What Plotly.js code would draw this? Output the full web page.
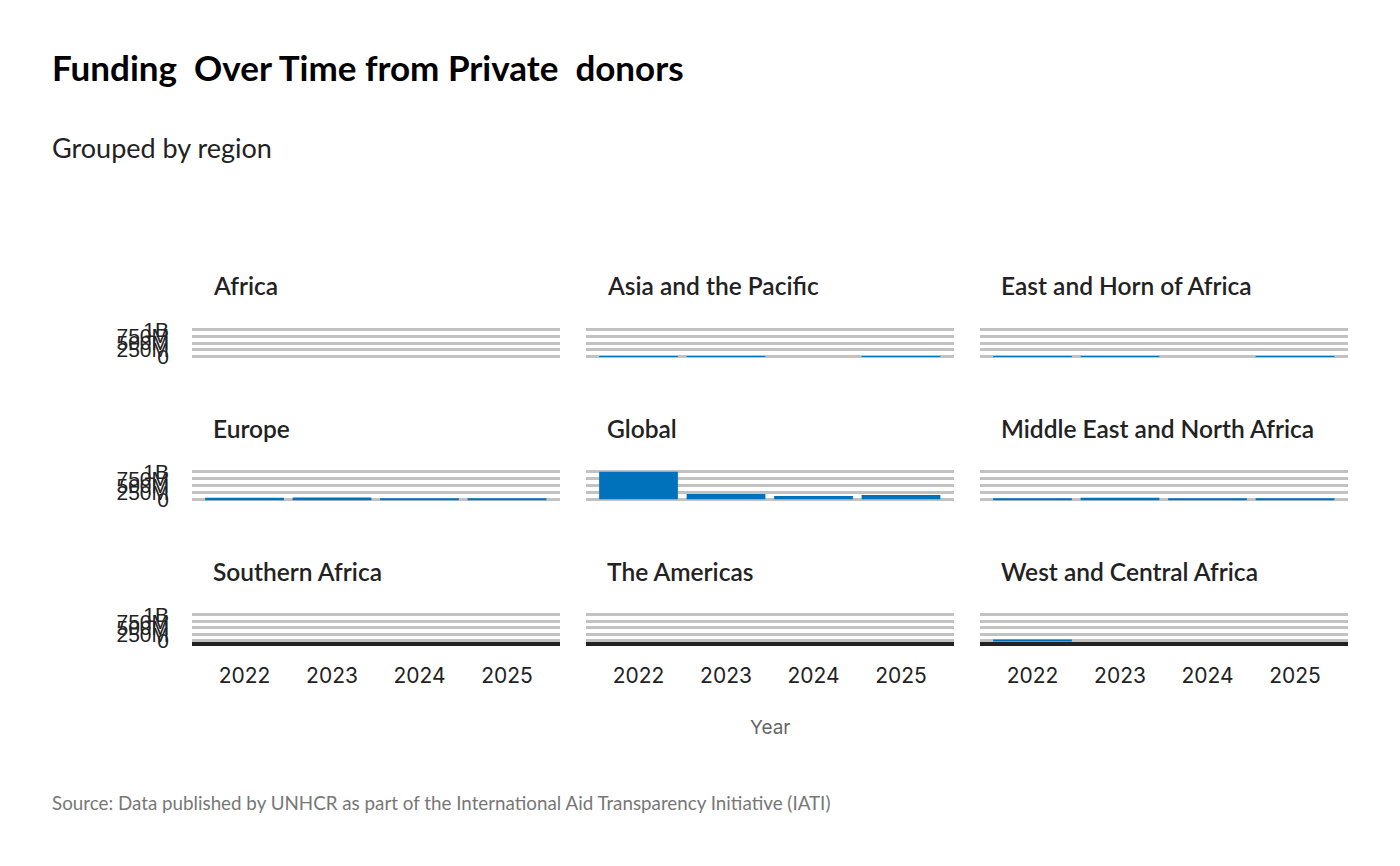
<!DOCTYPE html>
<html>
<head>
<meta charset="utf-8">
<script src="https://cdn.plot.ly/plotly-3.0.1.min.js"></script>
<style>html,body{margin:0;padding:0;background:#fff;}#chart{width:1400px;height:866px;}</style>
</head>
<body>
<div id="chart"></div>
<script>
// ---- data ----
const years = ['2022', '2023', '2024', '2025'];
const regions = ['Africa', 'Asia and the Pacific', 'East and Horn of Africa',
                 'Europe', 'Global', 'Middle East and North Africa',
                 'Southern Africa', 'The Americas', 'West and Central Africa'];
const africa         = [null, null, null, null];
const asiaPacific    = [30e6, 30e6, null, 30e6];
const eastHorn       = [30e6, 30e6, null, 30e6];
const europe         = [60e6, 70e6, 20e6, 20e6];
const globalFunds    = [1.0e9, 192e6, 120e6, 156e6];
const mena           = [25e6, 60e6, 25e6, 25e6];
const southernAfrica = [null, null, null, null];
const americas       = [null, null, null, null];
const westCentral    = [15e6, null, null, null];
const yTickVals = [0, 250e6, 500e6, 750e6, 1e9];
const yTickText = ['0', '250M', '500M', '750M', '1B'];

const seriesList = [africa, asiaPacific, eastHorn, europe, globalFunds, mena,
                    southernAfrica, americas, westCentral];

// ---- layout geometry ----
const W = 1400, H = 866;
const colPx = [[192, 559.5], [586, 953.5], [980, 1347.5]];
const rowPx = [[327.9, 358.1], [470.3, 500.7], [613.4, 642.0]];
const fx = p => p / W;
const fy = p => 1 - p / H;

const traces = [];
const layout = {
  width: W, height: H,
  margin: {l: 0, r: 0, t: 0, b: 0},
  paper_bgcolor: '#fff', plot_bgcolor: '#fff',
  showlegend: false,
  bargap: 0.1,
  font: {family: 'Lato, sans-serif', color: '#222'},
  annotations: []
};

seriesList.forEach((vals, i) => {
  const r = Math.floor(i / 3), c = i % 3;
  const n = i === 0 ? '' : String(i + 1);
  traces.push({
    type: 'bar', x: years, y: vals,
    xaxis: 'x' + n, yaxis: 'y' + n,
    marker: {color: '#0072BC'},
    width: 0.9,
    hoverinfo: 'x+y'
  });
  layout['xaxis' + n] = {
    domain: [fx(colPx[c][0]), fx(colPx[c][1])],
    anchor: 'y' + n,
    type: 'category',
    range: [-0.6, 3.6],
    showgrid: false,
    zeroline: false,
    showline: r === 2,
    linecolor: '#222',
    linewidth: 3.5,
    ticks: '',
    showticklabels: r === 2,
    ticklabelstandoff: 12,
    tickfont: {family: 'Inter, sans-serif', size: 21, color: '#222'},
    fixedrange: true
  };
  layout['yaxis' + n] = {
    domain: [fy(rowPx[r][1]), fy(rowPx[r][0])],
    anchor: 'x' + n,
    range: [-0.05e9, 1.05e9],
    tickvals: yTickVals,
    ticktext: yTickText,
    showgrid: true,
    gridcolor: '#c2c2c2',
    gridwidth: 2.5,
    zeroline: false,
    showline: false,
    ticks: '',
    showticklabels: c === 0,
    ticklabelstandoff: 22,
    tickfont: {family: 'Liberation Sans, Arial, sans-serif', size: 21, color: '#222'},
    fixedrange: true
  };
  layout.annotations.push({
    text: regions[i],
    xref: 'x' + n + ' domain', yref: 'y' + n + ' domain',
    x: 0, y: 1, xanchor: 'left', yanchor: 'middle',
    xshift: 19, yshift: 42,
    showarrow: false,
    font: {family: 'Lato, sans-serif', size: 24.5, color: '#222', weight: 600}
  });
});

layout.annotations.push(
  {text: '<b>Funding&nbsp; Over Time from Private&nbsp; donors</b>', xref: 'paper', yref: 'paper',
   x: fx(50), y: fy(67), xanchor: 'left', yanchor: 'middle', showarrow: false,
   font: {family: 'Lato, sans-serif', size: 35, color: '#000'}},
  {text: 'Grouped by region', xref: 'paper', yref: 'paper',
   x: fx(50), y: fy(147), xanchor: 'left', yanchor: 'middle', showarrow: false,
   font: {family: 'Lato, sans-serif', size: 27, color: '#222'}},
  {text: 'Year', xref: 'paper', yref: 'paper',
   x: fx(770), y: fy(727), xanchor: 'center', yanchor: 'middle', showarrow: false,
   font: {family: 'Inter, sans-serif', size: 19, color: '#666'}},
  {text: 'Source: Data published by UNHCR as part of the International Aid Transparency Initiative (IATI)',
   xref: 'paper', yref: 'paper',
   x: fx(50), y: fy(802), xanchor: 'left', yanchor: 'middle', showarrow: false,
   font: {family: 'Lato, sans-serif', size: 18.8, color: '#777'}}
);

Plotly.newPlot('chart', traces, layout, {displayModeBar: false});
</script>
</body>
</html>
